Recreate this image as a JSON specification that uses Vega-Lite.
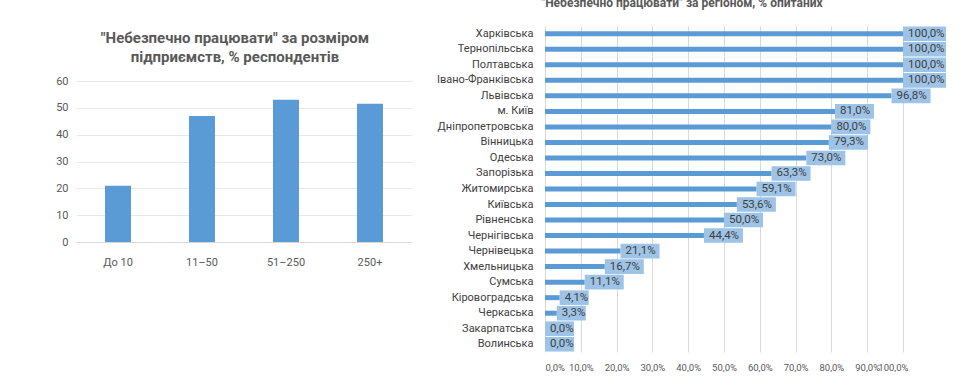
{
  "$schema": "https://vega.github.io/schema/vega-lite/v6.json",
  "background": "white",
  "padding": {"left": 55, "top": -3, "right": 0, "bottom": 0},
  "spacing": 24,
  "config": {"view": {"stroke": null}, "font": "Roboto"},
  "hconcat": [
    {
      "width": 336,
      "height": 216,
      "title": {
        "text": ["\"Небезпечно працювати\" за розміром", "підприємств, % респондентів"],
        "fontSize": 15,
        "fontWeight": "bold",
        "color": "#595959",
        "lineHeight": 19,
        "dy": 43,
        "dx": -9
      },
      "data": {"values": [
        {"size": "До 10", "v": 21},
        {"size": "11–50", "v": 47},
        {"size": "51–250", "v": 53},
        {"size": "250+", "v": 51.5}
      ]},
      "mark": {"type": "bar", "color": "#5b9bd5", "size": 26},
      "encoding": {
        "x": {
          "field": "size", "type": "nominal", "sort": null,
          "scale": {"paddingInner": 0, "paddingOuter": 0},
          "axis": {"title": null, "labelAngle": 0, "labelFontSize": 11, "labelColor": "#595959", "ticks": false, "domainColor": "#d9d9d9", "labelPadding": 14}
        },
        "y": {
          "field": "v", "type": "quantitative",
          "scale": {"domain": [0, 80.5], "nice": false},
          "axis": {"values": [0, 10, 20, 30, 40, 50, 60], "title": null, "domain": false, "ticks": false, "gridColor": "#e8e8e8", "labelFontSize": 11, "labelColor": "#595959", "labelPadding": 8}
        }
      }
    },
    {
      "width": 358,
      "height": 326,
      "title": {
        "text": "\"Небезпечно працювати\" за регіоном, % опитаних",
        "fontSize": 12,
        "fontWeight": "bold",
        "color": "#595959",
        "offset": 16,
        "dx": -42
      },
      "data": {"values": [
        {"r": "Харківська", "v": 100.0},
        {"r": "Тернопільська", "v": 100.0},
        {"r": "Полтавська", "v": 100.0},
        {"r": "Івано-Франківська", "v": 100.0},
        {"r": "Львівська", "v": 96.8},
        {"r": "м. Київ", "v": 81.0},
        {"r": "Дніпропетровська", "v": 80.0},
        {"r": "Вінницька", "v": 79.3},
        {"r": "Одеська", "v": 73.0},
        {"r": "Запорізька", "v": 63.3},
        {"r": "Житомирська", "v": 59.1},
        {"r": "Київська", "v": 53.6},
        {"r": "Рівненська", "v": 50.0},
        {"r": "Чернігівська", "v": 44.4},
        {"r": "Чернівецька", "v": 21.1},
        {"r": "Хмельницька", "v": 16.7},
        {"r": "Сумська", "v": 11.1},
        {"r": "Кіровоградська", "v": 4.1},
        {"r": "Черкаська", "v": 3.3},
        {"r": "Закарпатська", "v": 0.0},
        {"r": "Волинська", "v": 0.0}
      ]},
      "transform": [
        {"calculate": "replace(format(datum.v, '.1f'), '.', ',') + '%'", "as": "lbl"}
      ],
      "encoding": {
        "y": {
          "field": "r", "type": "nominal", "sort": null,
          "scale": {"paddingInner": 0, "paddingOuter": 0},
          "axis": {"title": null, "domain": false, "ticks": false, "labelFontSize": 11, "labelColor": "#404040", "labelPadding": 12}
        },
        "x": {
          "field": "v", "type": "quantitative",
          "scale": {"domain": [0, 100], "nice": false},
          "axis": {"values": [0, 10, 20, 30, 40, 50, 60, 70, 80, 90, 100], "title": null, "domain": false, "ticks": false, "gridColor": "#d9d9d9", "labelFontSize": 9.5, "labelColor": "#595959", "labelPadding": 10, "labelOverlap": false,
            "labelOffset": {"condition": {"test": "datum.value == 100", "value": 5}, "value": 0},
            "labelExpr": "replace(format(datum.value, '.1f'), '.', ',') + '%'"}
        }
      },
      "layer": [
        {"mark": {"type": "bar", "color": "#5b9bd5", "size": 5}},
        {
          "mark": {"type": "point", "filled": true, "size": 400, "opacity": 1, "color": "#9dc3e6", "strokeWidth": 0},
          "encoding": {
            "shape": {
              "condition": [
                {"test": "datum.v < 10", "value": "M0,-0.73H2.9V0.73H0Z"},
                {"test": "datum.v >= 100", "value": "M0,-0.73H4.3V0.73H0Z"}
              ],
              "value": "M0,-0.73H3.9V0.73H0Z"
            }
          }
        },
        {
          "mark": {"type": "text", "align": "left", "dx": 5, "fontSize": 11.5, "color": "#404040"},
          "encoding": {"text": {"field": "lbl"}}
        }
      ]
    }
  ]
}
